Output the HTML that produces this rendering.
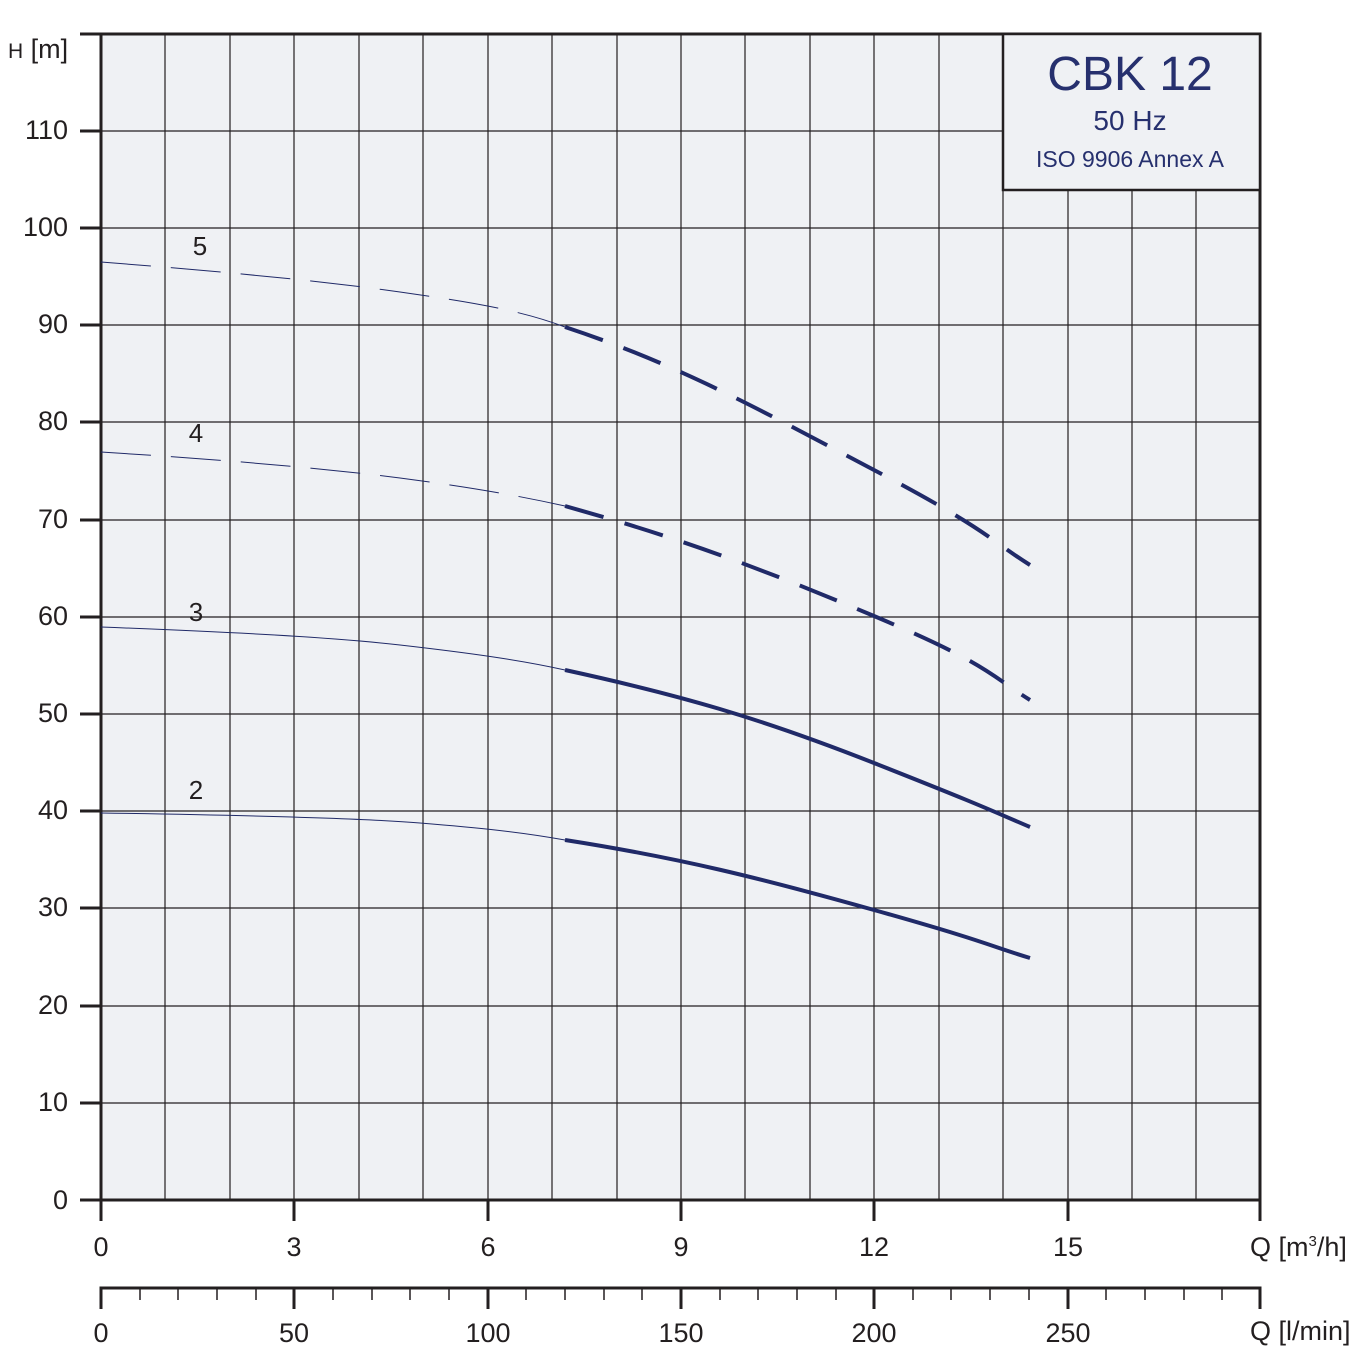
<!DOCTYPE html>
<html><head><meta charset="utf-8"><style>body{margin:0;background:#fff}svg{display:block}text{font-family:"Liberation Sans",sans-serif;fill:#231f20}</style></head><body>
<svg width="1364" height="1362" viewBox="0 0 1364 1362" xmlns="http://www.w3.org/2000/svg">
<rect x="101" y="34" width="1159" height="1166" fill="#eff1f4"/>
<g stroke="#231f20" stroke-width="1.2">
<path d="M165 34V1200M230 34V1200M294 34V1200M359 34V1200M423 34V1200M488 34V1200M552 34V1200M617 34V1200M681 34V1200M745 34V1200M810 34V1200M874 34V1200M939 34V1200M1003 34V1200M1068 34V1200M1132 34V1200M1196 34V1200"/>
<path d="M101 131H1260M101 228H1260M101 325H1260M101 422H1260M101 520H1260M101 617H1260M101 714H1260M101 811H1260M101 908H1260M101 1006H1260M101 1103H1260"/>
</g>
<g stroke="#231f20" stroke-width="3" fill="none">
<path d="M80 34H1260V1200M101 34V1221M80 1200H1260V1221"/>
<path d="M80 131H101M80 228H101M80 325H101M80 422H101M80 520H101M80 617H101M80 714H101M80 811H101M80 908H101M80 1006H101M80 1103H101"/>
<path d="M294 1200V1221M488 1200V1221M681 1200V1221M874 1200V1221M1068 1200V1221"/>
<path d="M101 1309V1288H1260V1309M294 1288V1309M488 1288V1309M681 1288V1309M874 1288V1309M1068 1288V1309"/>
</g>
<g stroke="#231f20" stroke-width="1.5">
<path d="M140 1288v12M178 1288v12M217 1288v12M256 1288v12M333 1288v12M372 1288v12M410 1288v12M449 1288v12M526 1288v12M565 1288v12M604 1288v12M642 1288v12M720 1288v12M758 1288v12M797 1288v12M836 1288v12M913 1288v12M951 1288v12M990 1288v12M1029 1288v12M1106 1288v12M1145 1288v12M1184 1288v12M1222 1288v12"/>
</g>
<rect x="1003" y="34" width="257" height="156" fill="#eff1f4" stroke="#231f20" stroke-width="2.5"/>
<text x="1130" y="90" font-size="48" text-anchor="middle" style="fill:#26306e">CBK 12</text>
<text x="1130" y="130" font-size="28" text-anchor="middle" style="fill:#26306e">50 Hz</text>
<text x="1130" y="167" font-size="23" text-anchor="middle" style="fill:#26306e">ISO 9906 Annex A</text>
<g font-size="27" text-anchor="end">
<text x="68" y="139">110</text><text x="68" y="236">100</text><text x="68" y="333">90</text><text x="68" y="430">80</text><text x="68" y="528">70</text><text x="68" y="625">60</text><text x="68" y="722">50</text><text x="68" y="819">40</text><text x="68" y="916">30</text><text x="68" y="1014">20</text><text x="68" y="1111">10</text><text x="68" y="1209">0</text>
</g>
<text x="8" y="58" font-size="27"><tspan font-size="21">H</tspan> [m]</text>
<g font-size="27" text-anchor="middle">
<text x="101" y="1256">0</text><text x="294" y="1256">3</text><text x="488" y="1256">6</text><text x="681" y="1256">9</text><text x="874" y="1256">12</text><text x="1068" y="1256">15</text>
<text x="101" y="1342">0</text><text x="294" y="1342">50</text><text x="488" y="1342">100</text><text x="681" y="1342">150</text><text x="874" y="1342">200</text><text x="1068" y="1342">250</text>
</g>
<text x="1250" y="1256" font-size="27">Q [m<tspan font-size="15" dy="-10">3</tspan><tspan dy="10">/h]</tspan></text>
<text x="1250" y="1340" font-size="27">Q [l/min]</text>
<g font-size="26" text-anchor="middle">
<text x="200" y="255">5</text><text x="196" y="442">4</text><text x="196" y="621">3</text><text x="196" y="799">2</text>
</g>
<g fill="none" stroke="#202a68">
<path stroke-width="1" d="M101 813C230 815 359 818 420 823S520 832 565 840"/>
<path stroke-width="1" d="M101 627C230 632 330 637 400 645S520 660 565 670"/>
<path stroke-width="1" stroke-dasharray="50 20" d="M101 452C230 460 330 469 400 478S520 496 565 506"/>
<path stroke-width="1" stroke-dasharray="50 20" d="M101 262C230 272 330 282 400 292S520 310 565 327"/>
<path stroke-width="4" d="M565 840C680 858 760 878 874 910S990 946 1030 958"/>
<path stroke-width="4" d="M565 670C680 695 760 718 874 763S990 810 1030 827"/>
<path stroke-width="4" stroke-dasharray="40 22" d="M565 506C680 538 760 568 874 616S990 675 1030 700"/>
<path stroke-width="4" stroke-dasharray="40 22" d="M565 327C680 365 760 410 874 470S990 540 1030 565"/>
</g>
</svg>
</body></html>
